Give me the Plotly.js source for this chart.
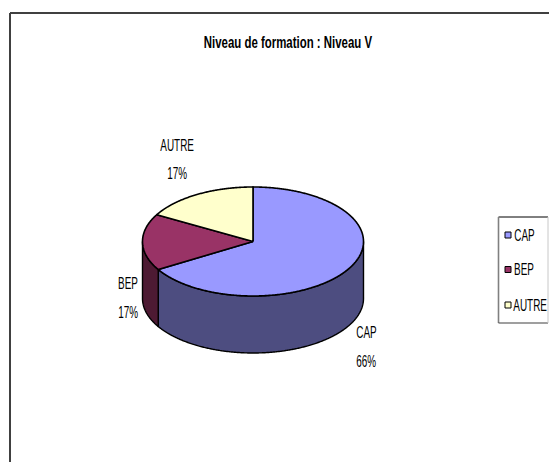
<!DOCTYPE html>
<html>
<head>
<meta charset="utf-8">
<script src="https://cdn.plot.ly/plotly-3.0.1.min.js"></script>
<style>html,body{margin:0;padding:0;background:#fff}</style>
</head>
<body>
<div id="chart" style="width:549px;height:462px"></div>
<script>
const chartTitle = "Niveau de formation : Niveau V";
const categories = ["CAP", "BEP", "AUTRE"];
const values = [66.4, 16.8, 16.8];
const topColors = ["#9999FF", "#993366", "#FFFFCC"];
const wallColors = ["#4D4D80", "#4D1A33", "#808066"];
const labelAnchors = [[366, 332, 361], [128, 283, 312], [177, 145, 173]];
const legendRows = [235, 269.5, 305];
const legendTextCenters = [524, 523.5, 530];

const FONT = '"Liberation Sans",Arial,sans-serif';
const cx = 253, cy = 241.5, rx = 110.5, ry = 54.5, depth = 57;
const total = values.reduce((a, b) => a + b, 0);

function pt(deg, dy) {
  const r = deg * Math.PI / 180;
  return [cx + rx * Math.sin(r), cy - ry * Math.cos(r) + (dy || 0)];
}
function arc(a, b, dy) {
  const out = [];
  const n = Math.max(2, Math.ceil(Math.abs(b - a) * 2));
  for (let i = 0; i <= n; i++) out.push(pt(a + (b - a) * i / n, dy));
  return out;
}
function poly(points, fill, width) {
  return {
    type: "scatter", mode: "lines", x: points.map(p => p[0]), y: points.map(p => p[1]),
    fill: "toself", fillcolor: fill, line: {color: "#000", width: width, simplify: false},
    hoverinfo: "skip", showlegend: false
  };
}

const traces = [];
let start = 0;
const spans = values.map(v => { const s = [start, start + v / total * 360]; start = s[1]; return s; });

spans.forEach((s, i) => {
  const a = Math.max(s[0], 90), b = Math.min(s[1], 270);
  if (b > a) traces.push(poly(arc(a, b, 0).concat(arc(b, a, depth)).concat([pt(a, 0)]), wallColors[i], 1.4));
});
spans.forEach((s, i) => {
  traces.push(poly([[cx, cy]].concat(arc(s[0], s[1], 0)).concat([[cx, cy]]), topColors[i], 1.6));
});

categories.forEach((c, i) => {
  traces.push({
    type: "scatter", mode: "markers", x: [508], y: [legendRows[i]], name: c,
    marker: {symbol: "square", size: 6, color: topColors[i], line: {color: "#000", width: 1}},
    hoverinfo: "skip", showlegend: false
  });
});

const annotations = [{
  x: 287.5, y: 42, xref: "x", yref: "y", text: "<b>" + chartTitle + "</b>", showarrow: false,
  font: {family: FONT, size: 16, color: "#000"}
}];
categories.forEach((c, i) => {
  const pct = Math.round(values[i] / total * 100) + "%";
  const [x, y1, y2] = labelAnchors[i];
  const f = {family: FONT, size: 16, color: "#000"};
  annotations.push({x: x, y: y1, xref: "x", yref: "y", text: c, showarrow: false, font: f});
  annotations.push({x: x, y: y2, xref: "x", yref: "y", text: pct, showarrow: false, font: f});
  annotations.push({x: legendTextCenters[i], y: legendRows[i], xref: "x", yref: "y", text: c, showarrow: false, font: f});
});

const seg = (x0, y0, x1, y1, color, width) => ({type: "line", xref: "x", yref: "y", x0, y0, x1, y1, line: {color, width}, layer: "below"});
const shapes = [
  seg(10, 13, 549, 13, "#000", 1.4),
  seg(10, 13, 10, 462, "#404040", 2),
  seg(498.5, 217, 548, 217, "#000", 1),
  seg(498.5, 217, 498.5, 323, "#808080", 1.6),
  seg(498.5, 323, 548, 323, "#404040", 1.2),
  seg(548, 217, 548, 323, "#C8C8C8", 1)
];

Plotly.newPlot("chart", traces, {
  width: 549, height: 462, margin: {l: 0, r: 0, t: 0, b: 0},
  paper_bgcolor: "#fff", plot_bgcolor: "#fff", showlegend: false,
  xaxis: {range: [0, 549], visible: false, fixedrange: true},
  yaxis: {range: [462, 0], visible: false, fixedrange: true},
  annotations: annotations, shapes: shapes
}, {displayModeBar: false, staticPlot: true}).then(() => {
  // The reference text is condensed: narrow each real text element around its centre.
  document.querySelectorAll("#chart .annotation-text").forEach((t, i) => {
    const factor = i === 0 ? 0.715 : 0.62;
    t.style.transformBox = "fill-box";
    t.style.transformOrigin = "center";
    t.style.transform = "scaleX(" + factor + ")";
  });
  document.querySelectorAll("#chart .annotation rect.bg").forEach(r => r.remove());
});
</script>
</body>
</html>
